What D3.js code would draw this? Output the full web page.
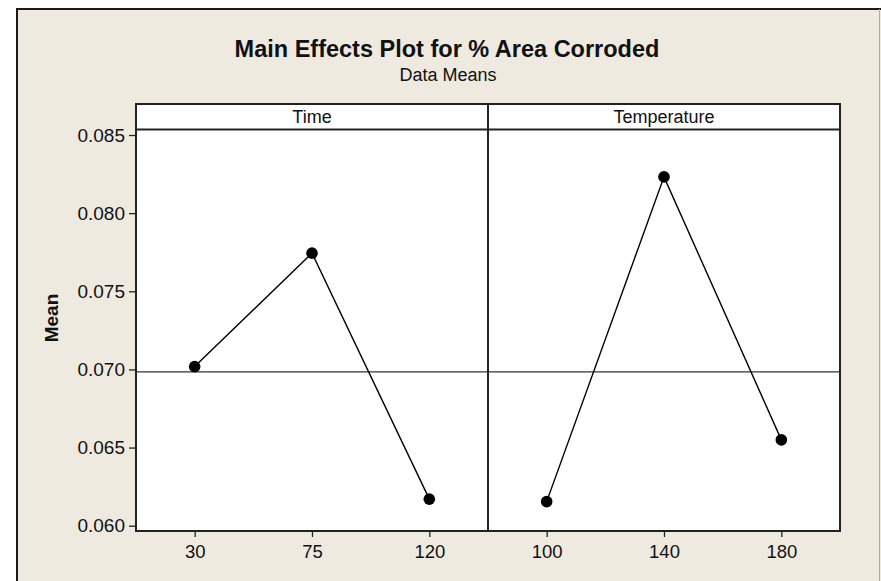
<!DOCTYPE html>
<html>
<head>
<meta charset="utf-8">
<script src="https://cdn.jsdelivr.net/npm/d3@7"></script>
<style>
    body { margin: 0; background: #fff; }
    svg { display: block; }
    text { font-family: "Liberation Sans", Arial, sans-serif; fill: #111; }
</style>
</head>
<body>
<svg id="chart" width="881" height="581"></svg>
<script>
// data
const factors = ["Time", "Temperature"];
const timeLevels = ["30", "75", "120"];
const timeMeans = [0.07018, 0.07744, 0.06170];
const tempLevels = ["100", "140", "180"];
const tempMeans = [0.06154, 0.08232, 0.06549];
const grandMean = 0.06984;
const yTicks = [0.060, 0.065, 0.070, 0.075, 0.080, 0.085];

const panels = [
    { name: factors[0], levels: timeLevels, means: timeMeans },
    { name: factors[1], levels: tempLevels, means: tempMeans },
];

const svg = d3.select("#chart");

const opts = {
    left: 136,
    right: 840,
    stripTop: 104,
    stripBottom: 129.5,
    bottom: 531,
    bg: "#eeeae0",
    frame: "#222",
};

// background + outer frame
svg.append("rect")
    .attr("x", 16).attr("y", 8)
    .attr("width", 881 - 16).attr("height", 581 - 8)
    .attr("fill", opts.bg);
svg.append("path")
    .attr("d", `M17,581 V9 H881`)
    .attr("fill", "none")
    .attr("stroke", "#1a1a1a")
    .attr("stroke-width", 2);
svg.append("line")
    .attr("x1", 879.5).attr("x2", 879.5).attr("y1", 9).attr("y2", 581)
    .attr("stroke", "#b0aca4").attr("stroke-width", 1);

// titles
svg.append("text")
    .attr("x", 447).attr("y", 57)
    .attr("text-anchor", "middle")
    .style("font-size", "23.5px")
    .style("font-weight", "bold")
    .text("Main Effects Plot for % Area Corroded");
svg.append("text")
    .attr("x", 448).attr("y", 81)
    .attr("text-anchor", "middle")
    .style("font-size", "18px")
    .text("Data Means");

// scales
const yScale = d3.scaleLinear()
    .domain([0.060, 0.085])
    .range([525.7, 135]);

const panelWidth = (opts.right - opts.left) / panels.length;
const panelScale = d3.scaleBand()
    .domain(factors)
    .range([opts.left, opts.right]);

const plot = svg.append("g");

// white plot area
plot.append("rect")
    .attr("x", opts.left).attr("y", opts.stripTop)
    .attr("width", opts.right - opts.left)
    .attr("height", opts.bottom - opts.stripTop)
    .attr("fill", "#fff");

panels.forEach(p => {
    const x0 = panelScale(p.name);
    const xScale = d3.scalePoint()
        .domain(p.levels)
        .range([x0, x0 + panelWidth])
        .padding(0.5);

    const g = plot.append("g");

    // reference line at grand mean
    g.append("line")
        .attr("x1", x0).attr("x2", x0 + panelWidth)
        .attr("y1", yScale(grandMean)).attr("y2", yScale(grandMean))
        .attr("stroke", "#333")
        .attr("stroke-width", 1.2);

    const pts = p.levels.map((l, i) => ({ level: l, mean: p.means[i] }));

    g.append("path")
        .datum(pts)
        .attr("d", d3.line()
            .x(d => xScale(d.level))
            .y(d => yScale(d.mean)))
        .attr("fill", "none")
        .attr("stroke", "#000")
        .attr("stroke-width", 1.4);

    g.selectAll("circle")
        .data(pts)
        .join("circle")
        .attr("cx", d => xScale(d.level))
        .attr("cy", d => yScale(d.mean))
        .attr("r", 5.8)
        .attr("fill", "#000");

    // strip header
    g.append("text")
        .attr("x", x0 + panelWidth / 2)
        .attr("y", 123)
        .attr("text-anchor", "middle")
        .style("font-size", "18px")
        .text(p.name);

    // x axis
    const xAxis = g.append("g")
        .attr("transform", `translate(0,${opts.bottom})`)
        .call(d3.axisBottom(xScale).tickSize(6).tickSizeOuter(0).tickPadding(8));
    xAxis.select(".domain").remove();
    xAxis.selectAll("line").attr("stroke", "#222").attr("stroke-width", 1.3);
    xAxis.selectAll("text")
        .style("font-size", "18.5px")
        .style("font-family", "'Liberation Sans', Arial, sans-serif")
        .attr("fill", "#111");

    // panel frame
    g.append("rect")
        .attr("x", x0).attr("y", opts.stripTop)
        .attr("width", panelWidth)
        .attr("height", opts.bottom - opts.stripTop)
        .attr("fill", "none")
        .attr("stroke", opts.frame)
        .attr("stroke-width", 2);
    g.append("line")
        .attr("x1", x0).attr("x2", x0 + panelWidth)
        .attr("y1", opts.stripBottom).attr("y2", opts.stripBottom)
        .attr("stroke", opts.frame)
        .attr("stroke-width", 2);
});

// y axis
const yAxis = svg.append("g")
    .attr("transform", `translate(${opts.left - 1},0)`)
    .call(d3.axisLeft(yScale)
        .tickValues(yTicks)
        .tickFormat(d3.format(".3f"))
        .tickSize(6)
        .tickSizeOuter(0)
        .tickPadding(4));
yAxis.select(".domain").remove();
yAxis.selectAll("line").attr("stroke", "#222").attr("stroke-width", 1.3);
yAxis.selectAll("text")
    .style("font-size", "19px")
    .style("font-family", "'Liberation Sans', Arial, sans-serif")
    .attr("fill", "#111");

// y label
svg.append("text")
    .attr("transform", "translate(58,318) rotate(-90)")
    .attr("text-anchor", "middle")
    .style("font-size", "19px")
    .style("font-weight", "bold")
    .text("Mean");
</script>
</body>
</html>
